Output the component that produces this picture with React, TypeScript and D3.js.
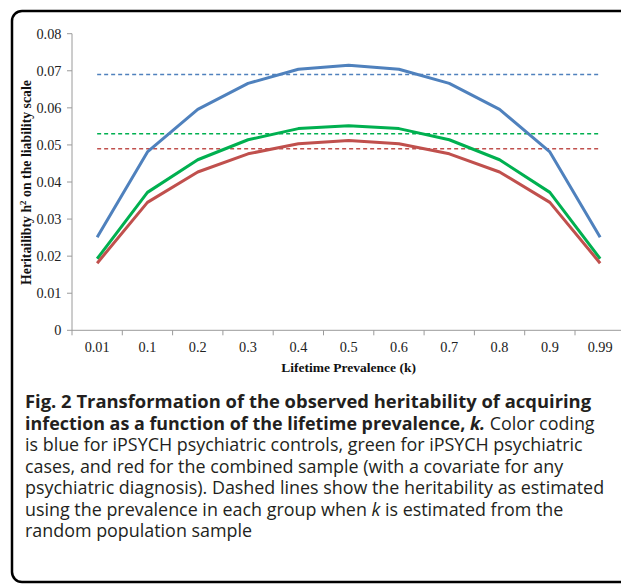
import React from "react";
import * as d3 from "d3";

const categories = ["0.01", "0.1", "0.2", "0.3", "0.4", "0.5", "0.6", "0.7", "0.8", "0.9", "0.99"];
const blueValues = [0.0251, 0.0481, 0.0596, 0.0666, 0.0704, 0.0715, 0.0704, 0.0666, 0.0596, 0.0481, 0.0251];
const greenValues = [0.0193, 0.0372, 0.046, 0.0514, 0.0544, 0.0552, 0.0544, 0.0514, 0.046, 0.0372, 0.0193];
const redValues = [0.0181, 0.0345, 0.0427, 0.0476, 0.0503, 0.0512, 0.0503, 0.0476, 0.0427, 0.0345, 0.0181];
const dashedValues = [0.069, 0.053, 0.049];
const yTicks = [0, 0.01, 0.02, 0.03, 0.04, 0.05, 0.06, 0.07, 0.08];
const seriesColors = ["#4F81BD", "#00B050", "#C0504D"];

const captionLines: { parts: { t: string; i?: boolean; b?: boolean }[] }[] = [
  { parts: [{ t: "Fig. 2 Transformation of the observed heritability of acquiring", b: true }] },
  { parts: [{ t: "infection as a function of the lifetime prevalence, ", b: true }, { t: "k.", b: true, i: true }, { t: " Color coding" }] },
  { parts: [{ t: "is blue for iPSYCH psychiatric controls, green for iPSYCH psychiatric" }] },
  { parts: [{ t: "cases, and red for the combined sample (with a covariate for any" }] },
  { parts: [{ t: "psychiatric diagnosis). Dashed lines show the heritability as estimated" }] },
  { parts: [{ t: "using the prevalence in each group when " }, { t: "k", i: true }, { t: " is estimated from the" }] },
  { parts: [{ t: "random population sample" }] },
];

export default function App() {
  const W = 621, H = 584;
  const x = d3.scaleBand<string>().domain(categories).range([72, 625.3]);
  const y = d3.scaleLinear().domain([0, 0.08]).range([330.3, 33.7]);
  const cx = (c: string) => (x(c) as number) + x.bandwidth() / 2;
  const line = d3
    .line<number>()
    .x((_, i) => cx(categories[i]))
    .y((d) => y(d));
  const series = [blueValues, greenValues, redValues];
  const axisColor = "#9a9a9a";
  const serif = "'Liberation Serif', 'Times New Roman', serif";
  const sans = "'Open Sans', 'Noto Sans', sans-serif";

  return (
    <svg width={W} height={H} style={{ position: "absolute", left: 0, top: 0, background: "#fff" }}>
      <rect x={12} y={11} width={700} height={571} rx={10} ry={10} fill="none" stroke="#000" strokeWidth={2.5} />
      {/* y axis */}
      <line x1={72} x2={72} y1={y(0.08)} y2={y(0)} stroke={axisColor} strokeWidth={1} />
      {yTicks.map((t) => (
        <g key={t}>
          <line x1={67} x2={72} y1={y(t)} y2={y(t)} stroke={axisColor} />
          <text x={61.5} y={y(t)} dy="0.35em" textAnchor="end" fontFamily={serif} fontSize={14.3} fill="#222">
            {t === 0 ? "0" : t.toFixed(2)}
          </text>
        </g>
      ))}
      {/* x axis */}
      <line x1={72} x2={625.3} y1={y(0)} y2={y(0)} stroke={axisColor} />
      {categories.map((c, i) => (
        <line key={"t" + i} x1={x(c) as number} x2={x(c) as number} y1={y(0)} y2={y(0) + 5} stroke={axisColor} />
      ))}
      <line x1={625.3} x2={625.3} y1={y(0)} y2={y(0) + 5} stroke={axisColor} />
      {categories.map((c) => (
        <text key={c} x={cx(c)} y={351.5} textAnchor="middle" fontFamily={serif} fontSize={14.3} fill="#222">
          {c}
        </text>
      ))}
      <text x={348.6} y={371.5} textAnchor="middle" fontFamily={serif} fontSize={13.5} fontWeight="bold" fill="#111">
        Lifetime Prevalence (k)
      </text>
      <text
        transform={`translate(30.5,182.5) rotate(-90)`}
        textAnchor="middle"
        fontFamily={serif}
        fontSize={13.8}
        fontWeight="bold"
        fill="#111"
      >
        Heritailibty h<tspan dy={-5} fontSize={9}>2</tspan>
        <tspan dy={5}> on the liability scale</tspan>
      </text>
      {/* dashed lines */}
      {dashedValues.map((v, i) => (
        <line
          key={"d" + i}
          x1={cx(categories[0])}
          x2={cx(categories[categories.length - 1])}
          y1={y(v)}
          y2={y(v)}
          stroke={seriesColors[i]}
          strokeWidth={1.5}
          strokeDasharray="4,3"
        />
      ))}
      {series.map((s, i) => (
        <path key={"s" + i} d={line(s) as string} fill="none" stroke={seriesColors[i]} strokeWidth={3} strokeLinejoin="round" />
      ))}
      {/* caption */}
      {captionLines.map((ln, i) => (
        <text key={"c" + i} x={25} y={408 + i * 21.5} fontFamily={sans} fontSize={i === 0 ? 18.4 : 17.9} fill="#231f20">
          {ln.parts.map((p, j) => (
            <tspan key={j} fontWeight={p.b ? "bold" : "normal"} fontStyle={p.i ? "italic" : "normal"}>
              {p.t}
            </tspan>
          ))}
        </text>
      ))}
    </svg>
  );
}
